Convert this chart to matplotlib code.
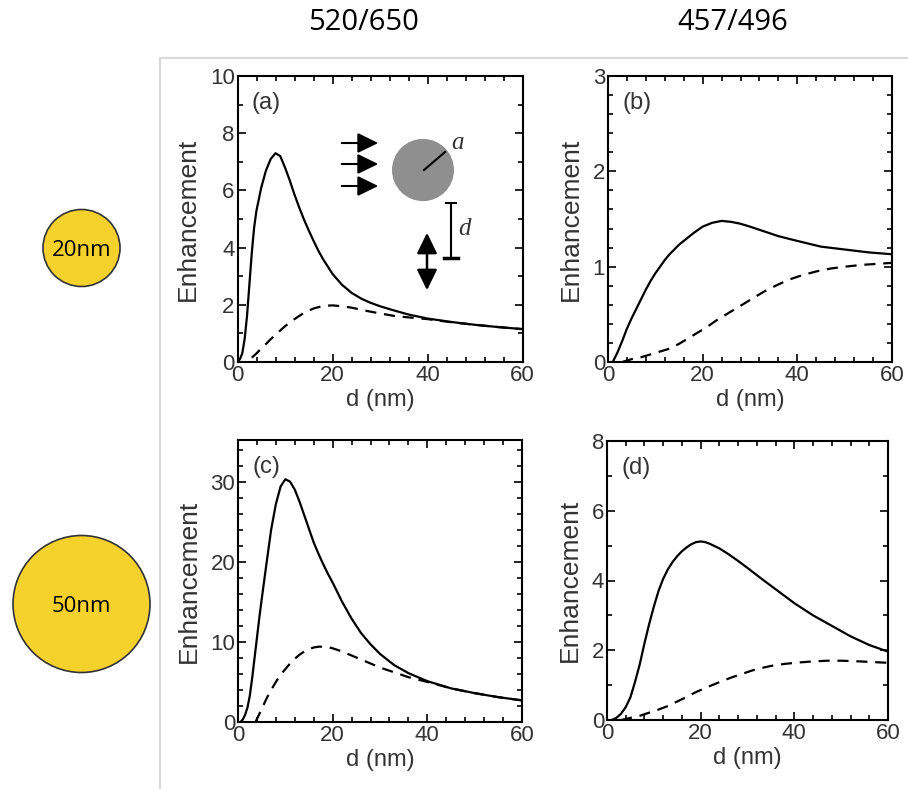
import numpy as np
import matplotlib
matplotlib.use("Agg")
import matplotlib.pyplot as plt
from matplotlib.patches import Circle
from matplotlib.ticker import MultipleLocator

# column headers and particle sizes
col_titles = ["520/650", "457/496"]
size_labels = ["20nm", "50nm"]
panel_tags = ["(a)", "(b)", "(c)", "(d)"]

# panel (a): 20 nm, 520/650
a_d_solid = [0, 0.5, 1, 1.5, 2, 2.5, 3, 3.5, 4, 5, 6, 7, 8, 9, 10, 11, 12, 13, 14, 15, 16, 17, 18,
             20, 22, 24, 26, 28, 30, 33, 36, 40, 45, 50, 55, 60]
a_e_solid = [0, 0.1, 0.3, 0.8, 1.6, 2.7, 3.8, 4.7, 5.3, 6.1, 6.7, 7.1, 7.3, 7.2, 6.8, 6.35, 5.85,
             5.4, 4.98, 4.6, 4.24, 3.9, 3.6, 3.08, 2.7, 2.42, 2.22, 2.07, 1.95, 1.8, 1.66, 1.52,
             1.4, 1.3, 1.22, 1.15]
a_d_dash = [3, 4, 5, 6, 7, 8, 9, 10, 12, 14, 16, 18, 20, 22, 24, 26, 28, 30, 33, 36, 40, 45, 50, 55, 60]
a_e_dash = [0.15, 0.3, 0.47, 0.63, 0.8, 0.95, 1.1, 1.25, 1.5, 1.72, 1.87, 1.96, 1.98, 1.95, 1.9,
            1.83, 1.76, 1.7, 1.61, 1.56, 1.5, 1.39, 1.3, 1.22, 1.15]

# panel (b): 20 nm, 457/496
b_d_solid = [1, 2, 3, 4, 5, 6, 7, 8, 9, 10, 11, 12, 13, 14, 15, 16, 18, 20, 22, 24, 26, 28, 30,
             33, 36, 40, 45, 50, 55, 60]
b_e_solid = [0, 0.1, 0.22, 0.35, 0.46, 0.56, 0.66, 0.76, 0.85, 0.93, 1.0, 1.07, 1.13, 1.18, 1.23,
             1.27, 1.35, 1.42, 1.46, 1.48, 1.47, 1.45, 1.42, 1.37, 1.32, 1.27, 1.21, 1.18, 1.15, 1.13]
b_d_dash = [3, 5, 7, 9, 11, 13, 15, 17, 19, 21, 23, 25, 27, 29, 31, 33, 35, 38, 41, 44, 47, 50,
            54, 57, 60]
b_e_dash = [0.0, 0.03, 0.05, 0.08, 0.11, 0.14, 0.19, 0.25, 0.31, 0.37, 0.44, 0.5, 0.56, 0.62,
            0.68, 0.74, 0.79, 0.86, 0.91, 0.95, 0.98, 1.0, 1.02, 1.03, 1.04]

# panel (c): 50 nm, 520/650
c_d_solid = [0.5, 1, 1.5, 2, 2.5, 3, 3.5, 4, 4.5, 5, 6, 7, 8, 9, 10, 11, 12, 13, 14, 15, 16, 17,
             18, 19, 20, 22, 24, 26, 28, 30, 33, 36, 40, 45, 50, 55, 60]
c_e_solid = [0, 0.3, 0.9, 1.8, 3.3, 5.5, 8, 10.5, 13, 15.3, 19.7, 24, 27.2, 29.4, 30.3, 30.0,
             29.0, 27.5, 25.8, 24.1, 22.4, 21.0, 19.7, 18.5, 17.4, 15.0, 12.9, 11.1, 9.7, 8.5,
             7.1, 6.1, 5.1, 4.2, 3.6, 3.1, 2.7]
c_d_dash = [3.7, 4.5, 5, 6, 7, 8, 9, 10, 11, 12, 13, 14, 15, 16, 17, 18, 19, 20, 22, 24, 26, 28,
            30, 33, 36, 40, 45, 50, 55, 60]
c_e_dash = [0, 1.0, 1.6, 2.9, 4.0, 5.0, 5.9, 6.6, 7.3, 7.9, 8.4, 8.8, 9.1, 9.3, 9.4, 9.4, 9.35,
            9.2, 8.8, 8.3, 7.8, 7.3, 6.8, 6.2, 5.6, 5.0, 4.2, 3.6, 3.1, 2.7]

# panel (d): 50 nm, 457/496
d_d_solid = [1, 2, 3, 4, 5, 6, 7, 8, 9, 10, 11, 12, 13, 14, 15, 16, 17, 18, 19, 20, 21, 22, 24,
             26, 28, 30, 33, 36, 40, 44, 48, 52, 56, 60]
d_e_solid = [0, 0.06, 0.18, 0.37, 0.65, 1.1, 1.6, 2.2, 2.75, 3.25, 3.7, 4.05, 4.32, 4.53, 4.7,
             4.84, 4.95, 5.04, 5.1, 5.12, 5.1, 5.05, 4.92, 4.75, 4.56, 4.36, 4.05, 3.75, 3.35,
             3.0, 2.7, 2.4, 2.15, 1.96]
d_d_dash = [3, 5, 7, 9, 11, 13, 15, 17, 19, 21, 23, 25, 27, 29, 31, 33, 35, 38, 41, 44, 47, 50,
            54, 57, 60]
d_e_dash = [0.0, 0.06, 0.12, 0.21, 0.3, 0.4, 0.53, 0.66, 0.8, 0.92, 1.03, 1.14, 1.24, 1.33, 1.42,
            1.49, 1.55, 1.61, 1.65, 1.68, 1.7, 1.7, 1.68, 1.66, 1.64]

panels = [
    (a_d_solid, a_e_solid, a_d_dash, a_e_dash, 10, 2, 1),
    (b_d_solid, b_e_solid, b_d_dash, b_e_dash, 3, 1, 0.2),
    (c_d_solid, c_e_solid, c_d_dash, c_e_dash, 35.2, 10, 2),
    (d_d_solid, d_e_solid, d_d_dash, d_e_dash, 8, 2, 1),
]

# axes rectangles in pixels: left, top, right, bottom
W, H = 908, 789
boxes = [(237.5, 76, 522.5, 362), (608, 76, 892, 362),
         (238, 440, 522, 722), (607, 441, 888, 720)]

plt.rcParams['font.family'] = ['Liberation Sans', 'DejaVu Sans']
fig = plt.figure(figsize=(W / 100, H / 100), dpi=100)

# background layer in pixel units (circles, headers, grey frame)
bg = fig.add_axes([0, 0, 1, 1], zorder=0)
bg.set_xlim(0, W)
bg.set_ylim(H, 0)
bg.axis('off')
bg.plot([160, 160], [58, H], color='#d9d9d9', lw=1.5)
bg.plot([160, W], [58, 58], color='#d9d9d9', lw=1.5)
bg.text(364, 22, col_titles[0], ha='center', va='center', fontsize=21, family='Open Sans')
bg.text(733, 22, col_titles[1], ha='center', va='center', fontsize=21, family='Open Sans')
for (cy, r), lab in zip([(248, 38.5), (604, 68.5)], size_labels):
    bg.add_patch(Circle((81.5, cy), r, fc='#f5d12c', ec='#333333', lw=1.2))
    bg.text(81.5, cy + 2, lab, ha='center', va='center', fontsize=16, family='Open Sans')

axes = []
for (ds, es, dd, ed, ymax, ymaj, ymin), (l, t, r, b), tag in zip(panels, boxes, panel_tags):
    ax = fig.add_axes([l / W, (H - b) / H, (r - l) / W, (b - t) / H], zorder=1)
    ax.plot(ds, es, color='black', lw=1.6)
    ax.plot(dd, ed, color='black', lw=1.6, dashes=(5, 3.5))
    ax.set_xlim(0, 60)
    ax.set_ylim(0, ymax)
    ax.xaxis.set_major_locator(MultipleLocator(20))
    ax.xaxis.set_minor_locator(MultipleLocator(4))
    ax.yaxis.set_major_locator(MultipleLocator(ymaj))
    ax.yaxis.set_minor_locator(MultipleLocator(ymin))
    ax.tick_params(which='both', direction='in', top=True, right=True, width=1.2,
                   labelsize=16, labelcolor='#333333', pad=2)
    ax.tick_params(which='major', length=6)
    ax.tick_params(which='minor', length=3.5)
    for s in ax.spines.values():
        s.set_linewidth(1.5)
    ax.set_xlabel('d (nm)', fontsize=17, color='#333333', labelpad=2)
    ax.set_ylabel('Enhancement', fontsize=19, color='#333333', labelpad=7)
    ax.text(0.05, 0.905, tag, transform=ax.transAxes, fontsize=17, color='#333333',
            va='center', ha='left')
    axes.append(ax)

# schematic inset in panel (a)
ax = axes[0]
l, t, r, b = boxes[0]


def fa(px, py):
    return ((px - l) / (r - l), (b - py) / (b - t))


ax.add_patch(Circle(fa(423, 170), 31 / (r - l), transform=ax.transAxes, fc='#8f8f8f', ec='none'))
ax.plot(*zip(fa(424, 170), fa(445, 152)), transform=ax.transAxes, color='black', lw=1.5)
ax.text(*fa(458, 143), 'a', transform=ax.transAxes, fontsize=18, family='Liberation Serif',
        style='italic', ha='center', va='center', color='#333333')
for py in [143, 164, 186]:
    ax.annotate('', xy=fa(381, py), xytext=fa(339, py), xycoords='axes fraction',
                arrowprops=dict(arrowstyle='-|>,head_length=0.45,head_width=0.22',
                                mutation_scale=28, lw=1.5, color='black'))
ax.annotate('', xy=fa(427, 293), xytext=fa(427, 230), xycoords='axes fraction',
            arrowprops=dict(arrowstyle='<|-|>,head_length=0.45,head_width=0.22',
                            mutation_scale=28, lw=1.8, color='black'))
ax.plot(*zip(fa(451, 203), fa(451, 258)), transform=ax.transAxes, color='black', lw=1.5)
ax.plot(*zip(fa(446, 203), fa(456, 203)), transform=ax.transAxes, color='black', lw=1.5)
ax.plot(*zip(fa(444, 258), fa(458, 258)), transform=ax.transAxes, color='black', lw=2.5)
ax.text(*fa(464, 229), 'd', transform=ax.transAxes, fontsize=18, family='Liberation Serif',
        style='italic', ha='center', va='center', color='#333333')

fig.savefig('out.png', dpi=100)
